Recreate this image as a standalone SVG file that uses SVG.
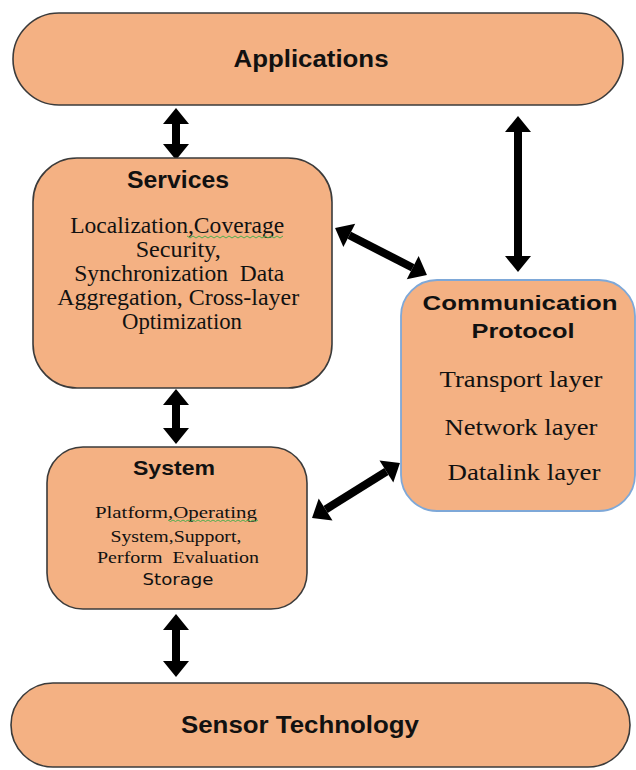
<svg xmlns="http://www.w3.org/2000/svg" width="636" height="770" viewBox="0 0 636 770">
  <style>
    .box { fill: #F4B183; stroke: #3b3b3b; stroke-width: 1.6; }
    .blue { stroke: #7EA8D8; stroke-width: 1.8; }
    .title { font-family: "Liberation Sans", Arial, sans-serif; font-weight: bold; fill: #111; text-anchor: middle; }
    .body { font-family: "Liberation Serif", "Times New Roman", serif; fill: #111; text-anchor: middle; }
    .sans { font-family: "DejaVu Sans", "Liberation Sans", sans-serif; fill: #111; text-anchor: middle; }
    .pre { white-space: pre; }
    .link { stroke: #000; stroke-width: 8; fill: none; marker-start: url(#head); marker-end: url(#head); }
    .squiggle { fill: none; stroke: #4CAF50; stroke-width: 1; }
  </style>
  <defs>
    <marker id="head" markerUnits="userSpaceOnUse" markerWidth="16" markerHeight="26" refX="0" refY="13" orient="auto-start-reverse" overflow="visible">
      <path d="M0,0 L16,13 L0,26 z" fill="#000"/>
    </marker>
  </defs>

  <rect width="636" height="770" fill="#fff"/>

  <!-- connectors -->
  <g id="connectors">
    <line class="link" x1="176" y1="124" x2="176" y2="144"/>
    <line class="link" x1="518" y1="132" x2="518" y2="256"/>
    <line class="link" x1="349.3" y1="235.3" x2="412.7" y2="267.7"/>
    <line class="link" x1="176" y1="405" x2="176" y2="428"/>
    <line class="link" x1="325.6" y1="509.5" x2="386.4" y2="471.5"/>
    <line class="link" x1="176" y1="630" x2="176" y2="661"/>
  </g>

  <g id="applications">
    <rect class="box" x="13" y="13" width="610" height="92" rx="46" ry="46"/>
    <text class="title" x="311" y="67" font-size="23" textLength="155" lengthAdjust="spacingAndGlyphs">Applications</text>
  </g>

  <g id="services">
    <rect class="box" x="33" y="158" width="299" height="230" rx="44" ry="44"/>
    <text class="title" x="178" y="188" font-size="23" textLength="102" lengthAdjust="spacingAndGlyphs">Services</text>
    <text class="body" font-size="22.5">
      <tspan x="180" y="233" textLength="214" lengthAdjust="spacingAndGlyphs">Localization,Coverage</tspan>
      <tspan x="181" y="257" textLength="85" lengthAdjust="spacingAndGlyphs">Security,</tspan>
      <tspan class="pre" x="182" y="281" textLength="210" lengthAdjust="spacingAndGlyphs">Synchronization  Data</tspan>
      <tspan x="181" y="305" textLength="242" lengthAdjust="spacingAndGlyphs">Aggregation, Cross-layer</tspan>
      <tspan x="182" y="329" textLength="120" lengthAdjust="spacingAndGlyphs">Optimization</tspan>
    </text>
    <path class="squiggle" d="M187,236 l3,2 l3,-2 l3,2 l3,-2 l3,2 l3,-2 l3,2 l3,-2 l3,2 l3,-2 l3,2 l3,-2 l3,2 l3,-2 l3,2 l3,-2 l3,2 l3,-2 l3,2 l3,-2 l3,2 l3,-2 l3,2 l3,-2 l3,2 l3,-2 l3,2 l3,-2 l3,2 l3,-2 l3,2 l3,-2"/>
  </g>

  <g id="communication-protocol">
    <rect class="box blue" x="401" y="280" width="234" height="231" rx="36" ry="36"/>
    <text class="title" font-size="21">
      <tspan x="523" y="310" textLength="195" lengthAdjust="spacingAndGlyphs">Communication</tspan>
      <tspan x="523" y="338" textLength="103" lengthAdjust="spacingAndGlyphs">Protocol</tspan>
    </text>
    <text class="body" font-size="24">
      <tspan x="524" y="387" textLength="163" lengthAdjust="spacingAndGlyphs">Transport layer</tspan>
      <tspan x="524" y="435" textLength="153" lengthAdjust="spacingAndGlyphs">Network layer</tspan>
      <tspan x="524" y="480" textLength="153" lengthAdjust="spacingAndGlyphs">Datalink layer</tspan>
    </text>
  </g>

  <g id="system">
    <rect class="box" x="47" y="447" width="260" height="162" rx="36" ry="36"/>
    <text class="title" x="174" y="475" font-size="21" textLength="82" lengthAdjust="spacingAndGlyphs">System</text>
    <text class="body" font-size="17">
      <tspan x="178" y="518" textLength="162" lengthAdjust="spacingAndGlyphs">Platform,Operating</tspan>
      <tspan x="178" y="542" textLength="131" lengthAdjust="spacingAndGlyphs">System,Support,</tspan>
      <tspan class="pre" x="178" y="563" textLength="162" lengthAdjust="spacingAndGlyphs">Perform  Evaluation</tspan>
    </text>
    <text class="sans" x="178" y="585" font-size="16" textLength="71" lengthAdjust="spacingAndGlyphs">Storage</text>
    <path class="squiggle" d="M168,520 l2.5,1.5 l2.5,-1.5 l2.5,1.5 l2.5,-1.5 l2.5,1.5 l2.5,-1.5 l2.5,1.5 l2.5,-1.5 l2.5,1.5 l2.5,-1.5 l2.5,1.5 l2.5,-1.5 l2.5,1.5 l2.5,-1.5 l2.5,1.5 l2.5,-1.5 l2.5,1.5 l2.5,-1.5 l2.5,1.5 l2.5,-1.5 l2.5,1.5 l2.5,-1.5 l2.5,1.5 l2.5,-1.5 l2.5,1.5 l2.5,-1.5 l2.5,1.5 l2.5,-1.5 l2.5,1.5 l2.5,-1.5 l2.5,1.5 l2.5,-1.5 l2.5,1.5 l2.5,-1.5 l2.5,1.5 l2.5,-1.5"/>
  </g>

  <g id="sensor-technology">
    <rect class="box" x="11" y="683" width="619" height="84" rx="42" ry="42"/>
    <text class="title" x="300" y="733" font-size="24" textLength="238" lengthAdjust="spacingAndGlyphs">Sensor Technology</text>
  </g>
</svg>
